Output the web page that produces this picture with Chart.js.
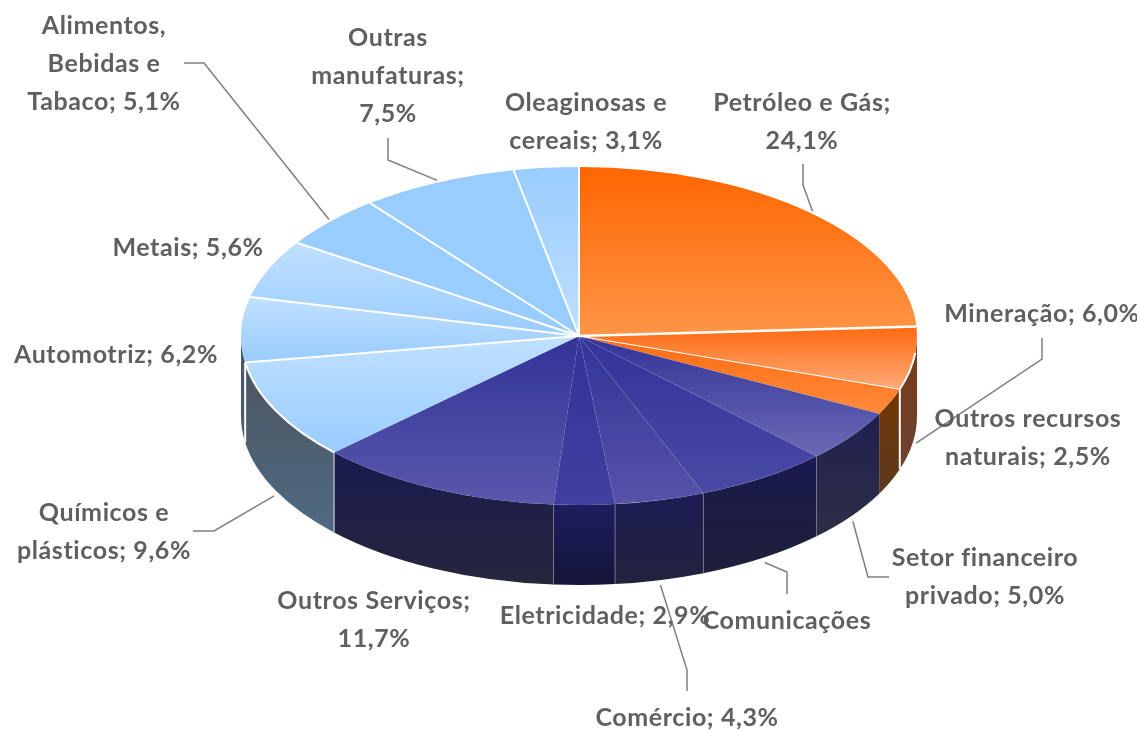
<!DOCTYPE html>
<html lang="pt">
<head>
<meta charset="utf-8">
<title>Pizza por setor</title>
<script src="https://cdn.jsdelivr.net/npm/chart.js@4"></script>
<style>
html, body { margin: 0; padding: 0; background: #fff; overflow: hidden; }
#wrap { width: 1137px; height: 731px; }
</style>
</head>
<body>
<div id="wrap"><canvas id="pieChart" width="1137" height="731"></canvas></div>
<script>
const categories = ["Petróleo e Gás", "Mineração", "Outros recursos naturais", "Setor financeiro privado", "Comunicações", "Comércio", "Eletricidade", "Outros Serviços", "Químicos e plásticos", "Automotriz", "Metais", "Alimentos, Bebidas e Tabaco", "Outras manufaturas", "Oleaginosas e cereais"];
const values = [24.1, 6.0, 2.5, 5.0, 6.4, 4.3, 2.9, 11.7, 9.6, 6.2, 5.6, 5.1, 7.5, 3.1];
const labelLines = [
    ["Petróleo e Gás;", "24,1%"],
    ["Mineração; 6,0%"],
    ["Outros recursos", "naturais; 2,5%"],
    ["Setor financeiro", "privado; 5,0%"],
    ["Comunicações"],
    ["Comércio; 4,3%"],
    ["Eletricidade; 2,9%"],
    ["Outros Serviços;", "11,7%"],
    ["Químicos e", "plásticos; 9,6%"],
    ["Automotriz; 6,2%"],
    ["Metais; 5,6%"],
    ["Alimentos,", "Bebidas e", "Tabaco; 5,1%"],
    ["Outras", "manufaturas;", "7,5%"],
    ["Oleaginosas e", "cereais; 3,1%"]
];

// styles, same order as categories
const topColors = [
    ["#ff6600", "#ff9547"], ["#ff6a10", "#ffaa78"], ["#ff6a10", "#ff8a3c"], ["#333399", "#6b69b4"],
    ["#333399", "#4a4aa6"], ["#333399", "#5653a8"], ["#333399", "#4040a0"], ["#333399", "#5a58ab"],
    ["#c0e0ff", "#99ccff"], ["#c0e0ff", "#99ccff"], ["#c0e0ff", "#99ccff"], ["#99ccff", "#99ccff"],
    ["#99ccff", "#99ccff"], ["#99ccff", "#c0e0ff"]
];
const wallColors = [
    null, ["#7c3a16", "#6a4232"], ["#753605", "#5a3a1d"], ["#1f2050", "#2e2e45"],
    ["#1a1a50", "#1f1f3a"], ["#1c1c55", "#22223c"], ["#1e1e60", "#14143a"], ["#1a1a50", "#26263c"],
    ["#4d5560", "#4e6a82"], ["#4a5a70", "#4a5a70"], null, null, null, null
];
const wallSeams = [null, "#fff", null, "#77778a", "#77778a", "#77778a", "#77778a", "#d8dde2", "#fff", null, null, null, null, null];
const faceSeams = [2, 2.5, 1, 0.6, 0.6, 0.6, 0.6, 0, 0, 2, 2, 2, 2, 2];
const rimLines = [false, true, false, false, false, false, false, false, true, false, false, false, false, false];

const tilt = 0.5;
const depth = 80;

function sliceRange(i) {
    const total = values.reduce((a, b) => a + b, 0);
    let sum = 0;
    for (let k = 0; k < i; k++) sum += values[k];
    const a0 = -Math.PI / 2 + sum / total * Math.PI * 2;
    const a1 = a0 + values[i] / total * Math.PI * 2;
    return [a0, a1];
}

function faceGradient(c) {
    const i = c.dataIndex;
    const area = c.chart.chartArea;
    if (!area) return topColors[i][0];
    const cy = (area.top + area.bottom) / 2;
    const r = c.chart.options.radius || c.dataset.radius;
    const [a0, a1] = sliceRange(i);
    let minS = Math.min(0, Math.sin(a0), Math.sin(a1));
    let maxS = Math.max(0, Math.sin(a0), Math.sin(a1));
    if (a0 < Math.PI / 2 && a1 > Math.PI / 2) maxS = 1;
    if (a0 < -Math.PI / 2 + 1e-6 && a1 > -Math.PI / 2) minS = -1;
    if (a0 < Math.PI * 1.5 && a1 >= Math.PI * 1.5) minS = -1;
    const g = c.chart.ctx.createLinearGradient(0, cy + minS * r, 0, cy + maxS * r);
    g.addColorStop(0, topColors[i][0]);
    g.addColorStop(1, topColors[i][1]);
    return g;
}

const pie3d = {
    id: "pie3d",
    beforeDatasetsDraw(chart) {
        const ctx = chart.ctx;
        const arcs = chart.getDatasetMeta(0).data;
        // side wall first, then the squashed top face goes over it
        arcs.forEach((arc, i) => {
            if (!wallColors[i]) return;
            const a0 = Math.max(arc.startAngle, 0);
            const a1 = Math.min(arc.endAngle, Math.PI);
            if (a1 <= a0) return;
            const r = arc.outerRadius, ry = r * tilt;
            const yTop = arc.y + Math.min(Math.sin(a0), Math.sin(a1)) * ry;
            const bottom = (a0 < Math.PI / 2 && a1 > Math.PI / 2) ? 1 : Math.max(Math.sin(a0), Math.sin(a1));
            const g = ctx.createLinearGradient(0, yTop, 0, arc.y + bottom * ry + depth);
            g.addColorStop(0, wallColors[i][0]);
            g.addColorStop(1, wallColors[i][1]);
            ctx.beginPath();
            ctx.ellipse(arc.x, arc.y, r, ry, 0, a0, a1);
            ctx.ellipse(arc.x, arc.y + depth, r, ry, 0, a1, a0, true);
            ctx.closePath();
            ctx.fillStyle = g;
            ctx.fill();
        });
        arcs.forEach((arc, i) => {
            if (!wallSeams[i] || arc.endAngle > Math.PI) return;
            const x = arc.x + Math.cos(arc.endAngle) * arc.outerRadius;
            const y = arc.y + Math.sin(arc.endAngle) * arc.outerRadius * tilt;
            ctx.beginPath();
            ctx.moveTo(x, y);
            ctx.lineTo(x, y + depth);
            ctx.strokeStyle = wallSeams[i];
            ctx.lineWidth = wallSeams[i] === "#fff" ? 2 : 1;
            ctx.stroke();
        });
        const cy = arcs[0].y;
        ctx.save();
        ctx.translate(0, cy);
        ctx.scale(1, tilt);
        ctx.translate(0, -cy);
    },
    afterDatasetsDraw(chart, args, opts) {
        const ctx = chart.ctx;
        ctx.restore();
        const arcs = chart.getDatasetMeta(0).data;

        arcs.forEach((arc, i) => {
            const r = arc.outerRadius, ry = r * tilt;
            if (faceSeams[i]) {
                ctx.beginPath();
                ctx.moveTo(arc.x, arc.y);
                ctx.lineTo(arc.x + Math.cos(arc.startAngle) * r, arc.y + Math.sin(arc.startAngle) * ry);
                ctx.strokeStyle = faceSeams[i] < 1 ? "rgba(255,255,255,.08)" : "#fff";
                ctx.lineWidth = faceSeams[i];
                ctx.stroke();
            }
            if (rimLines[i]) {
                ctx.beginPath();
                ctx.ellipse(arc.x, arc.y, r, ry, 0, Math.max(arc.startAngle, 0.1), arc.endAngle);
                ctx.strokeStyle = "#fff";
                ctx.lineWidth = 2;
                ctx.stroke();
            }
        });

        // leader lines, from the middle of the slice edge
        ctx.strokeStyle = "#7f7f7f";
        ctx.lineWidth = 1.5;
        opts.leaders.forEach(l => {
            const arc = arcs[l.slice];
            const mid = (arc.startAngle + arc.endAngle) / 2;
            const front = Math.sin(mid) > 0;
            ctx.beginPath();
            ctx.moveTo(arc.x + Math.cos(mid) * (arc.outerRadius + 2),
                       arc.y + Math.sin(mid) * arc.outerRadius * tilt + (front ? depth + 5 : -2));
            l.path.forEach(p => ctx.lineTo(p[0], p[1]));
            ctx.stroke();
        });

        ctx.font = opts.font;
        ctx.fillStyle = "#5f5f5f";
        ctx.textAlign = "center";
        ctx.textBaseline = "middle";
        ctx.letterSpacing = opts.spacing;
        opts.labelAt.forEach((p, i) => {
            labelLines[i].forEach((line, k) => ctx.fillText(line, p[0], p[1] + k * opts.lineHeight));
        });
        ctx.letterSpacing = "0px";
    }
};

new Chart(document.getElementById("pieChart"), {
    type: "pie",
    data: {
        labels: categories,
        datasets: [{
            data: values,
            backgroundColor: faceGradient,
            borderWidth: 0
        }]
    },
    options: {
        responsive: false,
        animation: false,
        radius: 338,
        layout: { padding: { left: 241, right: 220, top: 0, bottom: 59 } },
        plugins: {
            legend: { display: false },
            tooltip: { enabled: false },
            pie3d: {
                font: "bold 25px Lato",
                spacing: "0.6px",
                lineHeight: 38,
                labelAt: [
                    [802, 103], [1042, 314], [1028, 419], [985, 558], [787, 621], [687, 718], [605, 616],
                    [374, 601], [104, 513], [116, 355], [188, 248], [104, 26], [388, 38], [586, 103]
                ],
                leaders: [
                    { slice: 0, path: [[803, 185], [803, 164]] },
                    { slice: 1, path: [[1042, 359], [1042, 338]] },
                    { slice: 3, path: [[868, 577], [889, 577]] },
                    { slice: 4, path: [[787, 572], [787, 594]] },
                    { slice: 5, path: [[687, 670], [687, 691]] },
                    { slice: 8, path: [[214, 531], [193, 531]] },
                    { slice: 11, path: [[204, 63], [184, 63]] },
                    { slice: 12, path: [[388, 160], [388, 138]] }
                ]
            }
        }
    },
    plugins: [pie3d]
});
</script>
</body>
</html>
